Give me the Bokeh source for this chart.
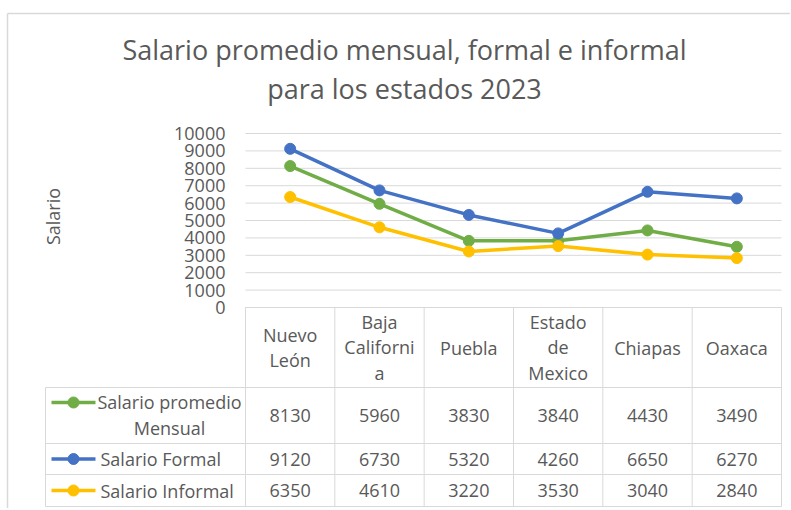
import math
from bokeh.plotting import figure
from bokeh.models import Range1d, FixedTicker, LinearAxis
from bokeh.core.properties import value
from bokeh.embed import file_html
from bokeh.resources import INLINE

# ---------------- data ----------------
states = ["Nuevo León", "Baja California", "Puebla", "Estado de Mexico", "Chiapas", "Oaxaca"]
state_labels = ["Nuevo\nLeón", "Baja\nCaliforni\na", "Puebla", "Estado\nde\nMexico", "Chiapas", "Oaxaca"]
series_names = ["Salario promedio\nMensual", "Salario Formal", "Salario Informal"]
salario_mensual = [8130, 5960, 3830, 3840, 4430, 3490]
salario_formal = [9120, 6730, 5320, 4260, 6650, 6270]
salario_informal = [6350, 4610, 3220, 3530, 3040, 2840]
y_ticks = [0, 1000, 2000, 3000, 4000, 5000, 6000, 7000, 8000, 9000, 10000]
title_lines = ["Salario promedio mensual, formal e informal", "para los estados 2023"]
y_label = "Salario"

# ---------------- style / layout (page pixels) ----------------
FONT = "Open Sans"
TXT = "#595959"
GRID = "#d9d9d9"
colors = ["#70AD47", "#4472C4", "#FFC000"]
series = [salario_mensual, salario_formal, salario_informal]

W, H = 790, 508
PL, PR, PT, PB = 245, 781, 133, 307     # plot area
LEG_L = 45                              # data-table left edge
ROWS = [307, 387, 443, 474, 506]        # data-table horizontal rules
LH = 1.08                               # multi-line text line height
n = len(states)
colw = (PR - PL) / n
ymax = y_ticks[-1]
k = ymax / (PB - PT)

def X(px):
    return (px - PL) / colw

def Y(py):
    return ymax - (py - PT) * k

xs = [i + 0.5 for i in range(n)]

p = figure(width=W, height=H, x_range=Range1d(X(0), X(W)), y_range=Range1d(Y(H), Y(0)),
           output_backend="svg", toolbar_location=None,
           x_axis_location=None, y_axis_location=None,
           min_border_left=0, min_border_right=0, min_border_top=0, min_border_bottom=0)
p.outline_line_color = None
p.grid.visible = False

# chart-area border (top and left edges)
p.segment(x0=[X(7), X(7)], y0=[Y(13), Y(13)], x1=[X(W), X(7)], y1=[Y(13), Y(H)],
          line_color=GRID, line_width=1.5)

# horizontal gridlines of the plot area
p.segment(x0=[0] * len(y_ticks), y0=y_ticks, x1=[n] * len(y_ticks), y1=y_ticks,
          line_color=GRID, line_width=1)

# y axis placed at the plot-area edge
ax = LinearAxis(fixed_location=0, ticker=FixedTicker(ticks=y_ticks), bounds=(0, ymax))
ax.axis_line_color = None
ax.major_tick_line_color = None
ax.minor_tick_line_color = None
ax.major_label_standoff = 14
ax.major_label_text_font = FONT
ax.major_label_text_font_size = "18px"
ax.major_label_text_color = TXT
p.add_layout(ax, "left")

# axis title
p.text(x=[X(52)], y=[Y(216)], text=[y_label], angle=math.pi / 2, text_align="center",
       text_baseline="middle", text_font=value(FONT), text_font_size="18px", text_color=TXT)

# chart title
p.text(x=[X(404), X(404)], y=[Y(49), Y(88)], text=title_lines, text_align="center",
       text_baseline="middle", text_font=value(FONT), text_font_size="27px", text_color=TXT)

# series
for vals, c in zip(series, colors):
    p.line(xs, vals, line_width=3.5, line_color=c)
    p.scatter(xs, vals, size=11, fill_color=c, line_color=c)

# ---------------- data table ----------------
hy = [Y(r) for r in ROWS]
p.segment(x0=[0] + [X(LEG_L)] * 4, y0=hy, x1=[n] * 5, y1=hy, line_color=GRID, line_width=1)
vx = [float(i) for i in range(n + 1)] + [X(LEG_L)]
p.segment(x0=vx, y0=[hy[0]] * (n + 1) + [hy[1]], x1=vx, y1=[hy[-1]] * (n + 2),
          line_color=GRID, line_width=1)

p.text(x=xs, y=[Y(347)] * n, text=state_labels, text_align="center", text_baseline="middle",
       text_font=value(FONT), text_font_size="18px", text_color=TXT, text_line_height=LH)

row_centers = [Y(415), Y(458.5), Y(490)]
for vals, yc in zip(series, row_centers):
    p.text(x=xs, y=[yc] * n, text=[str(v) for v in vals], text_align="center",
           text_baseline="middle", text_font=value(FONT), text_font_size="18px", text_color=TXT)

legend_line_y = [Y(402), Y(458.5), Y(490)]
legend_text_y = [Y(414.5), Y(458.5), Y(490)]
for name, c, ly, ty in zip(series_names, colors, legend_line_y, legend_text_y):
    p.line([X(51), X(95)], [ly, ly], line_color=c, line_width=3.5)
    p.scatter([X(73)], [ly], size=11, fill_color=c, line_color=c)
    if "\n" in name:
        p.text(x=[X(169)], y=[ty], text=[name], text_align="center", text_baseline="middle",
               text_font=value(FONT), text_font_size="18px", text_color=TXT, text_line_height=LH)
    else:
        p.text(x=[X(100)], y=[ty], text=[name], text_align="left", text_baseline="middle",
               text_font=value(FONT), text_font_size="18px", text_color=TXT)

open("out.html", "w").write(file_html(p, INLINE))
